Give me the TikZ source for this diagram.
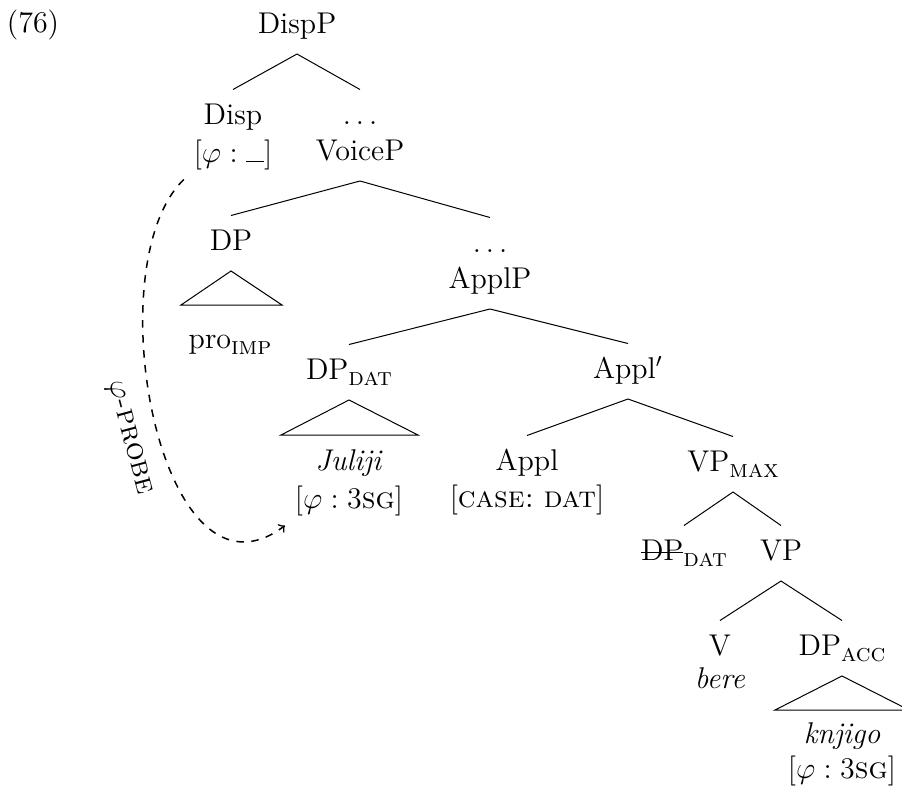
\documentclass[tikz,border=0pt,12pt]{standalone}
\usepackage{amsmath}
\newlength{\strklen}
\newcommand{\strikeout}[1]{\settowidth{\strklen}{#1}\rlap{\rule[0.55ex]{\strklen}{0.4pt}}#1}
\newcommand{\lsub}[1]{\raisebox{-2.4pt}{\footnotesize\textsc{#1}}}

\begin{document}
\begin{tikzpicture}[x=0.4pt, y=-0.4pt, thin,
    cat/.style={anchor=base, inner sep=0pt, outer sep=5.4pt, text height=8.4pt, text depth=3pt},
    feat/.style={anchor=base, inner sep=0pt, outer sep=4pt}]
    \useasboundingbox (0,0) rectangle (902,788);
    \node[anchor=base] (num) at (33,32) {(76)};
    % upper part
    \node[cat] (dispp) at (297,33) {DispP};
    \node[cat] (disp) at (233,124) {Disp};
    \node[feat] (dispf) at (233,162) {$[\varphi : \rule{0.6em}{0.4pt}]$};
    \node[cat] (dotsa) at (360,124) {$\ldots$};
    \node[cat] (voicep) at (360,160) {VoiceP};
    \node[cat] (dp) at (231,250) {DP};
    \node[cat] (pro) at (230,348) {pro\lsub{imp}};
    \node[cat] (dotsb) at (490,252) {$\ldots$};
    \node[cat] (applp) at (490,288) {ApplP};
    % applicative
    \node[cat] (dpdat) at (349,379) {DP\lsub{dat}};
    \node[cat] (juliji) at (349,470) {\textit{Juliji}};
    \node[feat] (julf) at (349,508) {$[\varphi : 3\textsc{sg}]$};
    \node[cat] (applbar) at (628,378) {Appl$'$};
    \node[cat] (appl) at (527,470) {Appl};
    \node[feat] (applf) at (527,507) {[\textsc{case:}\ \textsc{dat}]};
    \node[cat] (vpmax) at (733,471) {VP\lsub{max}};
    % verb phrase
    \node[cat] (dpdatlow) at (684,560) {\strikeout{DP}\lsub{dat}};
    \node[cat] (vp) at (781,560) {VP};
    \node[cat] (v) at (720,655) {V};
    \node[cat] (bere) at (720,688) {\textit{bere}};
    \node[cat] (dpacc) at (842,655) {DP\lsub{acc}};
    \node[cat] (knjigo) at (842,743) {\textit{knjigo}};
    \node[feat] (knjf) at (842,778) {$[\varphi : 3\textsc{sg}]$};

    \draw (dispp.south) -- (disp.north);
    \draw (dispp.south) -- (dotsa.north);
    \draw (voicep.south) -- (dp.north);
    \draw (voicep.south) -- (dotsb.north);
    \draw (applp.south) -- (dpdat.north);
    \draw (applp.south) -- (applbar.north);
    \draw (applbar.south) -- (appl.north);
    \draw (applbar.south) -- (vpmax.north);
    \draw (vpmax.south) -- (dpdatlow.north);
    \draw (vpmax.south) -- (vp.north);
    \draw (vp.south) -- (v.north);
    \draw (vp.south) -- (dpacc.north);
    % triangles
    \draw (dp.south) -- ++(-50,34) -- ++(101,0) -- cycle;
    \draw (dpdat.south) -- ++(-68,35) -- ++(137,0) -- cycle;
    \draw (dpacc.south) -- ++(-67,34) -- ++(134,0) -- cycle;

    \draw[semithick, dashed, ->] (dispf.south west) .. controls (95,265) and (160,620) .. (julf.south west)
        node[sloped, below=3pt, pos=0.52] {$\varphi$-\textsc{probe}};
\end{tikzpicture}
\end{document}
